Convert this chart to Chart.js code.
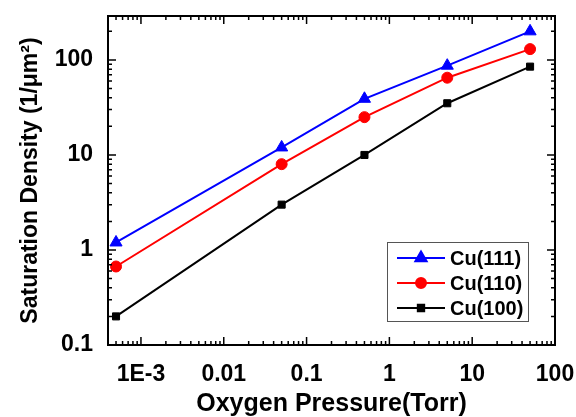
<!DOCTYPE html>
<html><head><meta charset="utf-8">
<script src="https://cdn.jsdelivr.net/npm/chart.js@4/dist/chart.umd.min.js"></script>
<style>html,body{margin:0;padding:0;background:#fff}#wrap{width:576px;height:417px}</style>
</head><body><div id="wrap"><canvas id="c" width="576" height="417"></canvas></div>
<script>
const pressures=[5e-4,0.05,0.5,5,50];
const cu111=[1.2,12,39,87,200];
const cu110=[0.67,8,25,65,130];
const cu100=[0.2,3,10,35,85];
const seriesNames=['Cu(111)','Cu(110)','Cu(100)'];
const seriesColors=['#0000ff','#ff0000','#000000'];
const seriesMarkers=['triangle','circle','rect'];
const xTickValues=[0.001,0.01,0.1,1,10,100];
const xTickLabels=['1E-3','0.01','0.1','1','10','100'];
const yTickValues=[0.1,1,10,100];
const yTickLabels=['0.1','1','10','100'];
const xTitle='Oxygen Pressure(Torr)';
const yTitle='Saturation Density (1/\u03BCm\u00B2)';

const FONT='"Liberation Sans", Arial, sans-serif';
const seriesValues=[cu111,cu110,cu100];
const markerRadius=[7,5.5,5];

const datasets=seriesNames.map((n,i)=>({
  label:n,
  data:pressures.map((p,j)=>({x:p,y:seriesValues[i][j]})),
  borderColor:seriesColors[i],backgroundColor:seriesColors[i],
  borderWidth:2,pointStyle:seriesMarkers[i],pointRadius:markerRadius[i],
  pointBorderWidth:1,tension:0,clip:false
}));

const framePlugin={
  id:'frame',
  afterDraw(chart){
    const ctx=chart.ctx, a=chart.chartArea;
    const xs=chart.scales.x, ys=chart.scales.y;
    ctx.save();
    ctx.strokeStyle='#000';ctx.lineWidth=2;
    ctx.strokeRect(a.left,a.top,a.right-a.left,a.bottom-a.top);
    ctx.lineWidth=1.5;
    function ticksFor(min,max){
      const out=[];
      for(let d=Math.floor(Math.log10(min))-1; d<=Math.ceil(Math.log10(max)); d++){
        for(let k=1;k<=9;k++){
          const v=k*Math.pow(10,d);
          if(v>=min*0.999 && v<=max*1.001) out.push({v,major:k===1});
        }
      }
      return out;
    }
    ctx.beginPath();
    ticksFor(xs.min,xs.max).forEach(t=>{
      const px=xs.getPixelForValue(t.v), L=t.major?8:4;
      ctx.moveTo(px,a.bottom);ctx.lineTo(px,a.bottom-L);
      ctx.moveTo(px,a.top);ctx.lineTo(px,a.top+L);
    });
    ticksFor(ys.min,ys.max).forEach(t=>{
      const py=ys.getPixelForValue(t.v), L=t.major?8:4;
      ctx.moveTo(a.left,py);ctx.lineTo(a.left+L,py);
      ctx.moveTo(a.right,py);ctx.lineTo(a.right-L,py);
    });
    ctx.stroke();
    // legend
    const lx=387, ly=242, lw=141, lh=79;
    ctx.fillStyle='#fff';ctx.fillRect(lx,ly,lw,lh);
    ctx.strokeStyle='#555';ctx.lineWidth=1;
    ctx.strokeRect(lx+0.5,ly+0.5,lw,lh);
    chart.data.datasets.forEach((ds,i)=>{
      const yy=ly+16+i*25;
      ctx.strokeStyle=ds.borderColor;ctx.lineWidth=2;
      ctx.beginPath();ctx.moveTo(lx+10,yy);ctx.lineTo(lx+58,yy);ctx.stroke();
      ctx.fillStyle=ds.backgroundColor;ctx.strokeStyle=ds.borderColor;
      Chart.helpers.drawPoint(ctx,{pointStyle:ds.pointStyle,radius:ds.pointRadius-0.5,borderWidth:1},lx+34,yy);
      ctx.fillStyle='#000';ctx.font='bold 20px '+FONT;
      ctx.textBaseline='middle';ctx.textAlign='left';
      ctx.fillText(ds.label,lx+63,yy+1);
    });
    ctx.restore();
  }
};

new Chart(document.getElementById('c'),{
  type:'line',
  data:{datasets},
  options:{
    responsive:false,animation:false,devicePixelRatio:1,
    layout:{padding:{left:0,top:16,right:21,bottom:0}},
    plugins:{legend:{display:false},tooltip:{enabled:false}},
    scales:{
      x:{type:'logarithmic',min:4e-4,max:100,
        grid:{display:false},border:{display:false},
        afterBuildTicks(s){s.ticks=xTickValues.map(v=>({value:v}));},
        afterFit(s){s.height=72;s.paddingLeft=0;s.paddingRight=0;},
        ticks:{color:'#000',padding:8,maxRotation:0,autoSkip:false,
          font:{family:FONT,size:23,weight:'bold'},
          callback(v){const i=xTickValues.indexOf(v);return i>=0?xTickLabels[i]:'';}},
        title:{display:true,text:xTitle,color:'#000',padding:{top:0,bottom:0},
          font:{family:FONT,size:25,weight:'bold',lineHeight:1}}
      },
      y:{type:'logarithmic',min:0.1,max:290,
        grid:{display:false},border:{display:false},
        afterBuildTicks(s){s.ticks=yTickValues.map(v=>({value:v}));},
        afterFit(s){s.width=108;s.paddingTop=0;s.paddingBottom=0;},
        ticks:{color:'#000',padding:7,autoSkip:false,
          font:{family:FONT,size:23,weight:'bold'},
          callback(v){const i=yTickValues.indexOf(v);return i>=0?yTickLabels[i]:'';}},
        title:{display:true,text:yTitle,color:'#000',padding:{top:17,bottom:0},
          font:{family:FONT,size:23,weight:'bold',lineHeight:1.2}}
      }
    }
  },
  plugins:[framePlugin]
});
</script>
</body></html>
